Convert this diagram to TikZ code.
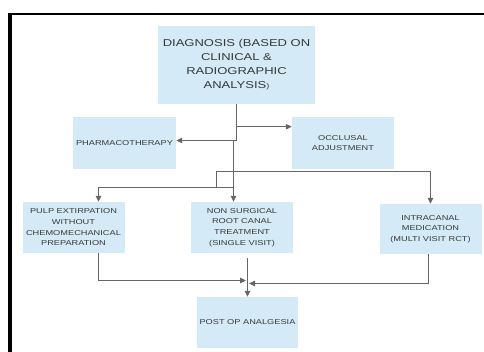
\documentclass[tikz,border=0pt]{standalone}
\usepackage{fontspec}
\newfontfamily\boxfont[FakeStretch=1.3]{Liberation Sans}
\usetikzlibrary{arrows.meta,calc}
\definecolor{boxblue}{HTML}{D4EAF6}
\definecolor{linegray}{HTML}{666666}
\definecolor{textgray}{HTML}{383838}

\begin{document}
\begin{tikzpicture}[x=1pt,y=-1pt,
    box/.style={fill=boxblue, text=textgray, align=center, inner sep=0pt,
      minimum width=102pt, minimum height=51pt,
      font=\boxfont\fontsize{7.1}{10.7}\selectfont},
    wire/.style={draw=linegray, line width=1pt},
    arr/.style={wire, -{Triangle[length=6pt,width=5.5pt]}}]
    \useasboundingbox (0,0) rectangle (484,352);

    % frame
    \draw[line width=3.5pt] (10,14) -- (10,360);
    \draw[line width=2pt] (8.25,14) -- (490,14);

    % boxes
    \node[box, minimum width=157pt, minimum height=78pt,
          font=\boxfont\fontsize{10}{14}\selectfont] (diag) at (236.5,65)
          {DIAGNOSIS (BASED ON\\CLINICAL \&\\RADIOGRAPHIC\\ANALYSIS{\fontsize{7}{7}\selectfont)}};
    \node[box, minimum width=103pt, minimum height=52pt] (pharma) at (124.5,143) {PHARMACOTHERAPY};
    \node[box, minimum height=52pt] (occl) at (343,143) {OCCLUSAL\\ADJUSTMENT};
    \node[box] (pulp) at (73.5,227.5) {PULP EXTIRPATION\\WITHOUT\\CHEMOMECHANICAL\\PREPARATION};
    \node[box] (nsrct) at (242,227.5) {NON SURGICAL\\ROOT CANAL\\TREATMENT\\(SINGLE VISIT)};
    \node[box, minimum height=50pt] (icm) at (430.5,229) {INTRACANAL\\MEDICATION\\(MULTI VISIT RCT)};
    \node[box, minimum width=101pt] (postop) at (247.5,322.5) {POST OP ANALGESIA};

    % branch points
    \coordinate (fork) at ([yshift=-22.5pt]diag.south);
    \coordinate (drop) at (233.5,140.5);
    \coordinate (busL) at (216.5,171.5);
    \coordinate (busB) at (216.5,187.5);
    \coordinate (join) at (247.5,258);
    \coordinate (mergeL) at (246,280.5);
    \coordinate (mergeR) at (249,283.5);

    % upper connectors
    \draw[arr] (diag.south) |- ([yshift=2.5pt]pharma.east);
    \draw[arr] (fork) -- (fork -| occl.west);
    \draw[arr] (drop) -- (drop |- nsrct.north);
    \draw[arr] (busL) -| (icm.north);
    \draw[wire] (busL) -- (busB) -- (busB -| drop);
    \draw[arr] (busB) -| ([xshift=25pt]pulp.north);

    % lower connectors
    \draw[arr] ([xshift=25pt]pulp.south) |- (mergeL);
    \draw[arr] ([xshift=-2pt]icm.south) |- (mergeR);
    \draw[arr] (join) -- (postop.north);
\end{tikzpicture}
\end{document}
